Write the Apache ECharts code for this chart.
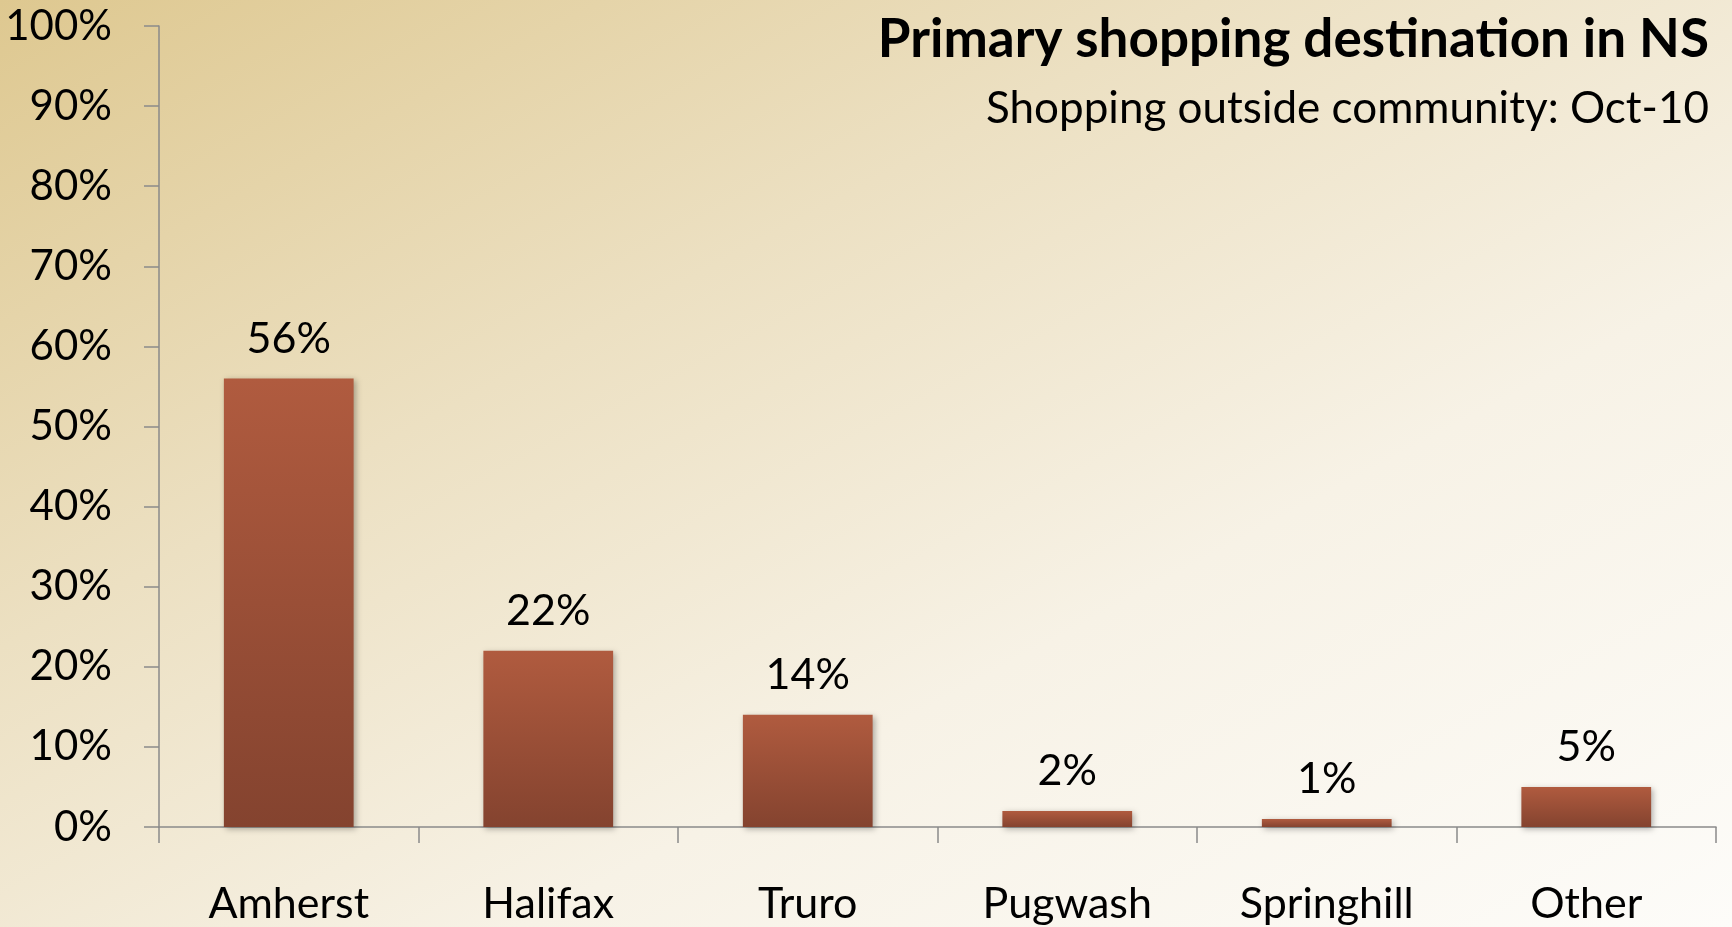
<!DOCTYPE html>
<html>
<head>
<meta charset="utf-8">
<script src="https://cdn.jsdelivr.net/npm/echarts@6/dist/echarts.min.js"></script>
<style>
  html, body { margin: 0; padding: 0; }
  body {
    width: 1732px; height: 927px; overflow: hidden;
    background: linear-gradient(to bottom right, #dec890 0%, #ece0c2 35%, #f7f2e6 65%, #fdfcf9 100%);
  }
  #chart { width: 1732px; height: 927px; }
</style>
</head>
<body>
<div id="chart"></div>
<script>
// data
var categories = ['Amherst', 'Halifax', 'Truro', 'Pugwash', 'Springhill', 'Other'];
var shares = [56, 22, 14, 2, 1, 5];
var titleText = 'Primary shopping destination in NS';
var subtitleText = 'Shopping outside community: Oct-10';

var font = 'Lato, "Open Sans", sans-serif';
var axisGrey = '#8a8a8a';

var myChart = echarts.init(document.getElementById('chart'));
var option = {
  backgroundColor: 'transparent',
  animation: false,
  title: [{
    text: titleText,
    right: 18,
    top: 8,
    textStyle: { fontFamily: font, fontSize: 53, fontWeight: 'bold', color: '#000' }
  }, {
    text: subtitleText,
    right: 18,
    top: 82,
    textStyle: { fontFamily: font, fontSize: 44, fontWeight: 'normal', color: '#000' }
  }],
  grid: { left: 159, right: 16, top: 26, bottom: 100 },
  xAxis: {
    type: 'category',
    data: categories,
    axisLine: { lineStyle: { color: axisGrey, width: 1.5 } },
    axisTick: { show: true, length: 16, lineStyle: { color: axisGrey, width: 1.5 } },
    axisLabel: { margin: 56, fontFamily: font, fontSize: 43, color: '#000' },
    splitLine: { show: false }
  },
  yAxis: {
    type: 'value',
    min: 0,
    max: 100,
    interval: 10,
    axisLine: { show: true, lineStyle: { color: axisGrey, width: 1.5 } },
    axisTick: { show: true, length: 15, lineStyle: { color: axisGrey, width: 1.5 } },
    axisLabel: { margin: 47, fontFamily: font, fontSize: 42, color: '#000', formatter: '{value}%' },
    splitLine: { show: false }
  },
  series: [{
    type: 'bar',
    data: shares,
    barWidth: '50%',
    itemStyle: {
      color: new echarts.graphic.LinearGradient(0, 0, 0, 1, [
        { offset: 0, color: '#b05b3f' },
        { offset: 1, color: '#84432f' }
      ]),
      shadowColor: 'rgba(0,0,0,0.3)',
      shadowBlur: 6,
      shadowOffsetX: 2,
      shadowOffsetY: 2
    },
    label: {
      show: true,
      position: 'top',
      distance: 18,
      fontFamily: font,
      fontSize: 43,
      color: '#000',
      formatter: '{c}%'
    }
  }]
};
myChart.setOption(option);
</script>
</body>
</html>
